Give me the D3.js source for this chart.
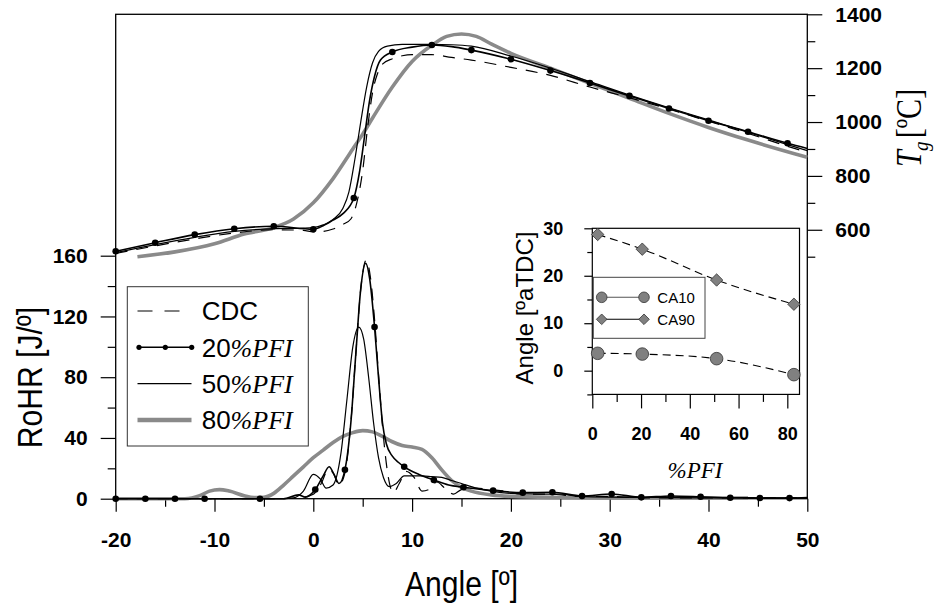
<!DOCTYPE html>
<html>
<head>
<meta charset="utf-8">
<script src="https://cdn.jsdelivr.net/npm/d3@7"></script>
<style>
body { margin: 0; background: #fff; }
svg { display: block; font-family: "Liberation Sans", Arial, sans-serif; }
</style>
</head>
<body>
<svg id="chart" width="936" height="609"></svg>
<script>
// rate of heat release [J/deg] vs crank angle
const hrCDC = [[-20,0],[-3,0],[-2,0.3],[-1,1],[0,3],[0.8,10],[1.5,19],[2.0,17],[2.6,9],[3.2,17],[3.8,50],[4.3,95],[4.8,138],[5.35,157],[5.8,145],[6.2,118],[6.6,82],[7.0,48],[7.5,18],[8.1,4],[8.7,10],[9.4,18],[10.2,14],[11.0,5],[11.7,6],[12.5,11],[13.3,7],[14.2,3],[15.0,6],[16.5,7],[18,6],[19.5,5],[21,3],[24,3],[27,1.5],[30,1.5],[33,0.5],[40,0.5],[50,0.5]];
const hr20 = [[-20,0],[-17,0],[-14,0],[-11,0],[-5.4,0],[-3,0],[-1.5,2.5],[-0.8,1],[0.2,6],[1.0,15],[1.6,21],[2.1,16],[2.6,10],[3.2,19],[3.8,50],[4.3,95],[4.8,138],[5.3,155],[5.7,145],[6.2,113],[6.6,80],[7.0,50],[7.4,36],[8.0,28],[8.6,24],[9.2,21],[10.7,16],[12.2,12.3],[13.7,9],[15.2,7.5],[18.2,5.3],[21.2,4],[24.2,4.2],[27.2,1.8],[30.2,3.1],[33.2,0.9],[36.2,1.8],[39.2,1.3],[42.2,0.6],[45.2,0.5],[48.2,0.4],[50,0.8]];
const hr20Marks = [[-20,0],[-17,0],[-14,0],[-11,0],[-5.4,0],[0.2,6],[3.2,19],[6.2,113],[9.2,21],[12.2,12.3],[15.2,7.5],[18.2,5.3],[21.2,4],[24.2,4.2],[27.2,1.8],[30.2,3.1],[33.2,0.9],[36.2,1.8],[39.2,1.3],[42.2,0.6],[45.2,0.5],[48.2,0.4]];
const hr50 = [[-20,0],[-3,0],[-2,0.5],[-1,5],[0,16],[0.7,13],[1.3,7],[2.0,9],[2.8,30],[3.4,65],[4.0,100],[4.6,113],[5.1,105],[5.6,80],[6.1,50],[6.6,27],[7.1,14],[7.7,8],[8.4,10],[9.2,15],[10,15],[11,15],[12,14.5],[13,14],[14,12],[15,10],[16.5,7],[18,5],[20,3.5],[23,3],[25,3],[27,1.5],[30,1],[35,0.8],[40,0.5],[50,0.5]];
const hr80 = [[-20,0],[-13,0],[-11.5,2],[-10.5,5],[-9.5,6],[-8.5,5],[-7,2],[-6,0.8],[-5,1],[-4,3.5],[-3,9],[-2,15],[-1,21],[0,27],[1,32],[2,37],[3,41],[4,43.5],[5,44.8],[6,44],[7,41],[8,37.5],[9,35],[10,34],[11,32.5],[12,27],[13,19],[14,12],[15,7.5],[16,5],[18,2.5],[20,1.5],[25,0.8],[30,0.5],[44,0.5]];

// gas temperature [C] vs crank angle
const tCDC = [[-20,512],[-16,540],[-12,566],[-8,588],[-4,600],[-1,598],[0,592],[1,594],[2,603],[3,620],[3.8,640],[4.4,700],[5,820],[5.5,980],[6,1110],[6.5,1180],[7,1215],[8,1235],[9,1246],[10,1250],[12,1250],[14,1240],[16,1230],[20,1203],[24,1173],[28,1130],[32,1090],[36,1048],[40,1003],[44,958],[48,910],[50,888]];
const t20 = [[-20,520],[-16,552],[-12,582],[-8,604],[-4,613],[0,602],[1,615],[2,636],[3,660],[4.1,718],[4.7,820],[5.2,950],[5.7,1080],[6.2,1170],[6.8,1230],[8,1260],[10,1278],[12,1286],[14,1280],[16,1267],[20,1233],[24,1191],[28,1145],[32,1097],[36,1050],[40,1005],[44,964],[48,921],[50,902]];
const t20Marks = [[-20,520],[-16,552],[-12,582],[-8,604],[-4,613],[0,602],[4.1,718],[8,1260],[12,1286],[16,1267],[20,1233],[24,1191],[28,1145],[32,1097],[36,1050],[40,1005],[44,964],[48,921]];
const t50 = [[-20,515],[-16,545],[-12,572],[-8,594],[-4,604],[-1,606],[0,608],[1,618],[2,638],[3,680],[3.6,740],[4.2,860],[4.8,1000],[5.4,1130],[6,1220],[6.6,1262],[7.5,1282],[9,1288],[12,1288],[14,1287],[16,1282],[20,1245],[24,1200],[28,1150],[32,1100],[36,1053],[40,1008],[44,962],[48,916],[50,894]];
const t80 = [[-17.8,500],[-14,518],[-10,548],[-7,584],[-4,608],[-2,640],[0,700],[2,790],[4,900],[5,955],[6,1015],[8,1130],[10,1225],[12,1285],[13.5,1318],[15,1327],[16.5,1318],[18,1290],[20,1255],[24,1200],[28,1144],[32,1088],[36,1032],[40,980],[44,933],[50,869]];

// inset: combustion angles vs %PFI
const pfi = [2.2, 20.5, 51, 82.7];
const ca10 = [3.66, 3.5, 2.53, -0.84];
const ca90 = [28.7, 25.6, 19.1, 14.0];

const angleTicks = [-20, -10, 0, 10, 20, 30, 40, 50];
const hrTicks = [0, 40, 80, 120, 160];
const tTicks = [600, 800, 1000, 1200, 1400];
const insetXTicks = [0, 20, 40, 60, 80];
const insetYTicks = [0, 10, 20, 30];

const gray = '#8a8a8a';
const plain = d => String(d);
const svg = d3.select('#chart');

const x = d3.scaleLinear().domain([-20, 50]).range([115.7, 807.3]);
const yR = d3.scaleLinear().domain([0, 160]).range([498.7, 255.7]);
const yT = d3.scaleLinear().domain([500, 1400]).range([256.7, 14.3]);

function styleAxis(g, size) {
  g.select('.domain').remove();
  g.selectAll('line').attr('stroke', '#000').attr('stroke-width', 1.2);
  g.selectAll('text').attr('fill', '#000').style('font-size', size + 'px').style('font-weight', 'bold');
}

// axes
svg.append('g').attr('transform', `translate(0,${yR(0)})`)
  .call(d3.axisBottom(x).tickValues(angleTicks).tickSize(13).tickPadding(20).tickFormat(plain))
  .call(g => styleAxis(g, 21));
svg.append('g').attr('transform', `translate(0,${yR(0)})`)
  .call(d3.axisBottom(x).tickValues([-15, -5, 5, 15, 25, 35, 45]).tickSize(8).tickFormat(''))
  .call(g => styleAxis(g, 21));
svg.append('g').attr('transform', `translate(${x(-20)},0)`)
  .call(d3.axisLeft(yR).tickValues(hrTicks).tickSize(15).tickPadding(13).tickFormat(plain))
  .call(g => styleAxis(g, 21));
svg.append('g').attr('transform', `translate(${x(-20)},0)`)
  .call(d3.axisLeft(yR).tickValues([20, 60, 100, 140]).tickSize(8).tickFormat(''))
  .call(g => styleAxis(g, 21));
svg.append('g').attr('transform', `translate(${x(50)},0)`)
  .call(d3.axisRight(yT).tickValues(tTicks).tickSize(15).tickPadding(13).tickFormat(plain))
  .call(g => styleAxis(g, 21));
svg.append('g').attr('transform', `translate(${x(50)},0)`)
  .call(d3.axisRight(yT).tickValues([500, 700, 900, 1100, 1300]).tickSize(8).tickFormat(''))
  .call(g => styleAxis(g, 21));

svg.append('rect')
  .attr('x', x(-20)).attr('y', yT(1400))
  .attr('width', x(50) - x(-20)).attr('height', yR(0) - yT(1400))
  .attr('fill', 'none').attr('stroke', '#000').attr('stroke-width', 1.3);

// axis titles
svg.append('g').attr('transform', 'translate(461.5,596) scale(0.86,1)')
  .append('text').attr('text-anchor', 'middle').style('font-size', '35px').text('Angle [º]');
svg.append('g').attr('transform', 'translate(42,377.5) rotate(-90) scale(0.86,1)')
  .append('text').attr('text-anchor', 'middle').style('font-size', '35px').text('RoHR [J/º]');
const tg = svg.append('g').attr('transform', 'translate(921,167) rotate(-90) scale(0.86,1)')
  .append('text').style('font-family', '"Liberation Serif", "Times New Roman", serif').style('font-size', '35px');
tg.append('tspan').style('font-style', 'italic').text('T');
tg.append('tspan').style('font-style', 'italic').style('font-size', '22px').attr('dy', 7).attr('dx', -1).text('g');
tg.append('tspan').attr('dy', -7).attr('dx', 4).text('[ºC]');

// curves
const lineR = d3.line().x(d => x(d[0])).y(d => yR(d[1])).curve(d3.curveMonotoneX);
const lineT = d3.line().x(d => x(d[0])).y(d => yT(d[1])).curve(d3.curveMonotoneX);

[hr80, t80].forEach((d, i) => {
  svg.append('path').attr('d', (i ? lineT : lineR)(d))
    .attr('fill', 'none').attr('stroke', gray).attr('stroke-width', 3.6).attr('stroke-linejoin', 'round');
});
[hrCDC, tCDC].forEach((d, i) => {
  svg.append('path').attr('d', (i ? lineT : lineR)(d))
    .attr('fill', 'none').attr('stroke', '#000').attr('stroke-width', 1.2).attr('stroke-dasharray', '12,9');
});
[hr50, t50].forEach((d, i) => {
  svg.append('path').attr('d', (i ? lineT : lineR)(d))
    .attr('fill', 'none').attr('stroke', '#000').attr('stroke-width', 1.2);
});
[hr20, t20].forEach((d, i) => {
  svg.append('path').attr('d', (i ? lineT : lineR)(d))
    .attr('fill', 'none').attr('stroke', '#000').attr('stroke-width', 1.6);
});
svg.append('g').selectAll('circle').data(hr20Marks).join('circle')
  .attr('cx', d => x(d[0])).attr('cy', d => yR(d[1])).attr('r', 3.3).attr('fill', '#000');
svg.append('g').selectAll('circle').data(t20Marks).join('circle')
  .attr('cx', d => x(d[0])).attr('cy', d => yT(d[1])).attr('r', 3.3).attr('fill', '#000');

// main legend
const leg = svg.append('g');
leg.append('rect').attr('x', 127.3).attr('y', 286.7).attr('width', 181).attr('height', 159.3)
  .attr('fill', '#fff').attr('stroke', '#333').attr('stroke-width', 1);
const legItems = [
  { num: 'CDC', pfi: false, dash: '15,12', w: 1.1, c: '#000', dots: false },
  { num: '20', pfi: true, dash: null, w: 1.5, c: '#000', dots: true },
  { num: '50', pfi: true, dash: null, w: 1.1, c: '#000', dots: false },
  { num: '80', pfi: true, dash: null, w: 4.5, c: gray, dots: false }
];
legItems.forEach((it, i) => {
  const ly = 311 + i * 36.3;
  leg.append('line').attr('x1', 137.5).attr('x2', 191.5).attr('y1', ly).attr('y2', ly)
    .attr('stroke', it.c).attr('stroke-width', it.w).attr('stroke-dasharray', it.dash);
  if (it.dots) {
    [139, 165.3, 191.7].forEach(cx => leg.append('circle').attr('cx', cx).attr('cy', ly).attr('r', 2.6).attr('fill', '#000'));
  }
  const t = leg.append('text').attr('x', 201.7).attr('y', ly).attr('dy', '0.36em').style('font-size', '26px');
  t.append('tspan').text(it.num);
  if (it.pfi) {
    t.append('tspan').style('font-family', '"Liberation Serif", "Times New Roman", serif').style('font-style', 'italic').text('%PFI');
  }
});

// inset
const ix = d3.scaleLinear().domain([0, 85]).range([592.3, 799.5]);
const iy = d3.scaleLinear().domain([-5, 30]).range([394.4, 228.3]);

svg.append('rect').attr('x', ix(0)).attr('y', iy(30)).attr('width', ix(85) - ix(0)).attr('height', iy(-5) - iy(30))
  .attr('fill', '#fff').attr('stroke', '#000').attr('stroke-width', 1.2);
svg.append('g').attr('transform', `translate(0,${iy(-5)})`)
  .call(d3.axisBottom(ix).tickValues(insetXTicks).tickSize(14).tickPadding(19).tickFormat(plain))
  .call(g => styleAxis(g, 18));
svg.append('g').attr('transform', `translate(0,${iy(-5)})`)
  .call(d3.axisBottom(ix).tickValues([10, 30, 50, 70]).tickSize(7.5).tickFormat(''))
  .call(g => styleAxis(g, 18));
svg.append('g').attr('transform', `translate(${ix(0)},0)`)
  .call(d3.axisLeft(iy).tickValues(insetYTicks).tickSize(8).tickPadding(21).tickFormat(plain))
  .call(g => styleAxis(g, 18));
svg.append('g').attr('transform', `translate(${ix(0)},0)`)
  .call(d3.axisLeft(iy).tickValues([-5, 5, 15, 25]).tickSize(5).tickFormat(''))
  .call(g => styleAxis(g, 18));

svg.append('text').attr('x', 695).attr('y', 478).attr('text-anchor', 'middle')
  .style('font-family', '"Liberation Serif", "Times New Roman", serif').style('font-style', 'italic').style('font-size', '23px')
  .text('%PFI');
svg.append('text').attr('transform', 'translate(533,308) rotate(-90)').attr('text-anchor', 'middle')
  .style('font-size', '24px').text('Angle [ºaTDC]');

const iline = d3.line().x(d => ix(d[0])).y(d => iy(d[1])).curve(d3.curveMonotoneX);
const diamond = s => `M0,${-s}L${s},0L0,${s}L${-s},0Z`;
[ca10, ca90].forEach((vals, k) => {
  const pts = pfi.map((p, i) => [p, vals[i]]);
  svg.append('path').attr('d', iline(pts)).attr('fill', 'none')
    .attr('stroke', '#000').attr('stroke-width', 1.1).attr('stroke-dasharray', '8,5');
  const g = svg.append('g');
  if (k === 0) {
    g.selectAll('circle').data(pts).join('circle')
      .attr('cx', d => ix(d[0])).attr('cy', d => iy(d[1])).attr('r', 6.3)
      .attr('fill', '#808080').attr('stroke', '#333').attr('stroke-width', 0.8);
  } else {
    g.selectAll('path').data(pts).join('path')
      .attr('transform', d => `translate(${ix(d[0])},${iy(d[1])})`).attr('d', diamond(6.2))
      .attr('fill', '#808080').attr('stroke', '#333').attr('stroke-width', 0.8);
  }
});

// inset legend
const il = svg.append('g');
il.append('rect').attr('x', 593.3).attr('y', 277.3).attr('width', 111.7).attr('height', 61)
  .attr('fill', '#fff').attr('stroke', '#444').attr('stroke-width', 1);
['CA10', 'CA90'].forEach((name, i) => {
  const ly = 297.3 + i * 22;
  il.append('line').attr('x1', 601.7).attr('x2', 644).attr('y1', ly).attr('y2', ly)
    .attr('stroke', i ? '#000' : '#555').attr('stroke-width', 1.1);
  [601.7, 644].forEach(cx => {
    if (i === 0) {
      il.append('circle').attr('cx', cx).attr('cy', ly).attr('r', 5.3)
        .attr('fill', '#808080').attr('stroke', '#333').attr('stroke-width', 0.8);
    } else {
      il.append('path').attr('transform', `translate(${cx},${ly})`).attr('d', diamond(5.3))
        .attr('fill', '#808080').attr('stroke', '#333').attr('stroke-width', 0.8);
    }
  });
  il.append('text').attr('x', 657.3).attr('y', ly).attr('dy', '0.36em').style('font-size', '15px').text(name);
});
</script>
</body>
</html>
